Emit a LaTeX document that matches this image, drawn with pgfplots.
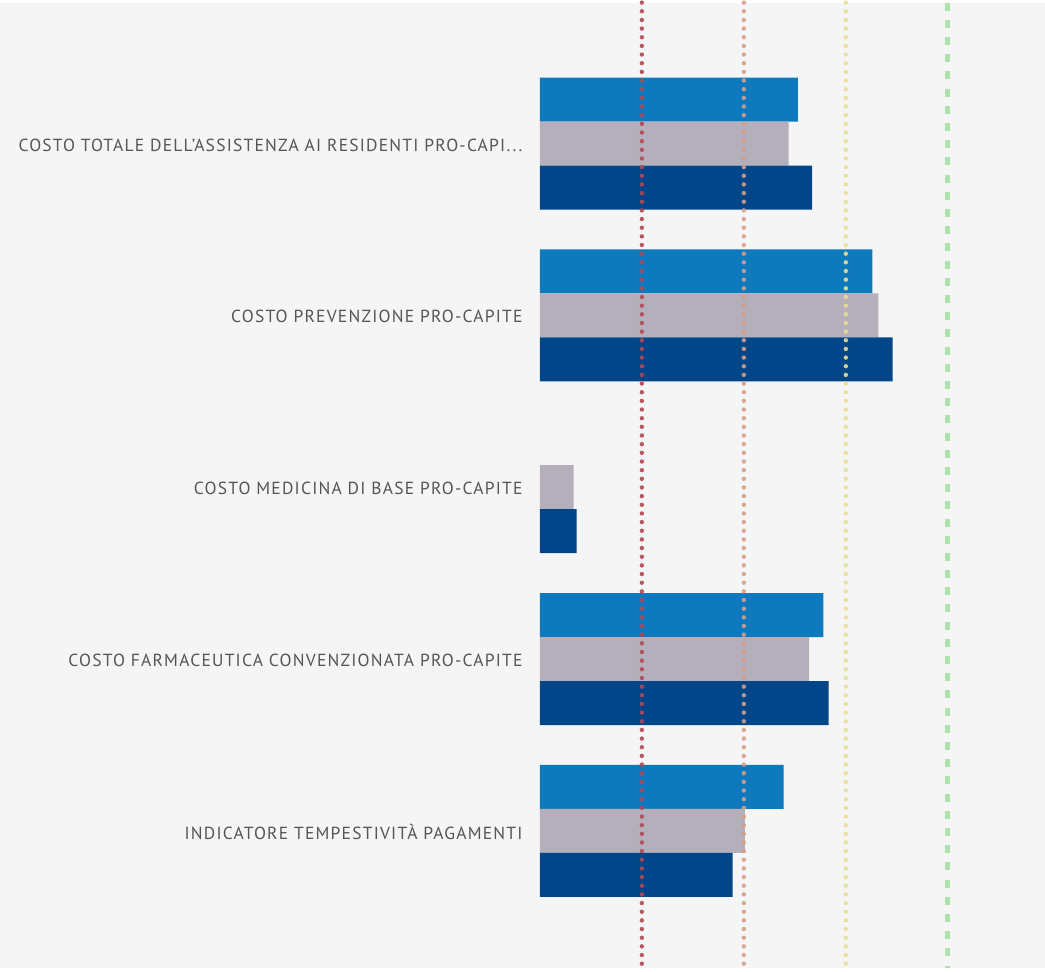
\documentclass[border=0pt]{standalone}
\usepackage{fontspec}
\setmainfont{PT Sans}[LetterSpace=7]
\usepackage{pgfplots}
\pgfplotsset{compat=1.18}

\definecolor{bg}{RGB}{245,245,245}
\definecolor{lightblue}{RGB}{14,122,189}
\definecolor{greybar}{RGB}{180,175,186}
\definecolor{darkblue}{RGB}{0,70,136}
\definecolor{lab}{RGB}{85,85,85}
\definecolor{l1}{RGB}{178,72,84}
\definecolor{l2}{RGB}{214,158,138}
\definecolor{l3}{RGB}{234,220,150}
\definecolor{l4}{RGB}{170,225,170}

\newcommand{\threedots}{.{}.{}.}

\begin{document}
\begin{tikzpicture}
\fill[bg] (-270pt,0) rectangle (252.5pt,483pt);
\begin{axis}[
  at={(0,0)}, anchor=south west,
  scale only axis,
  width=252.5pt, height=483pt,
  xmin=0, xmax=4.951,
  ymin=-0.82, ymax=4.80,
  y dir=reverse,
  axis line style={draw=none},
  major tick length=0pt,
  xtick=\empty,
  ytick={0,1,2,3,4},
  yticklabels={
    {COSTO TOTALE DELL'ASSISTENZA AI RESIDENTI PRO-CAPI\threedots},
    {COSTO PREVENZIONE PRO-CAPITE},
    {COSTO MEDICINA DI BASE PRO-CAPITE},
    {COSTO FARMACEUTICA CONVENZIONATA PRO-CAPITE},
    {INDICATORE TEMPESTIVITÀ PAGAMENTI}},
  yticklabel style={font=\fontsize{8.75}{10}\selectfont, text=lab, inner sep=0pt, xshift=-8.5pt, yshift=-0.7pt},
  clip=false,
]
\addplot[xbar, bar width=0.256, bar shift=-0.256, fill=lightblue, draw=none]
  coordinates {(2.53,0) (3.26,1) (2.78,3) (2.39,4)};
\addplot[xbar, bar width=0.256, bar shift=0, fill=greybar, draw=none]
  coordinates {(2.44,0) (3.32,1) (0.33,2) (2.64,3) (2.01,4)};
\addplot[xbar, bar width=0.256, bar shift=0.256, fill=darkblue, draw=none]
  coordinates {(2.67,0) (3.46,1) (0.36,2) (2.83,3) (1.89,4)};

\addplot[l1, opacity=0.9, line width=2.2pt, line cap=round, dash pattern=on 0pt off 4.33pt]
  coordinates {(1,-0.82) (1,4.80)};
\addplot[l2, opacity=0.9, line width=2.2pt, line cap=round, dash pattern=on 0pt off 4.33pt]
  coordinates {(2,-0.82) (2,4.80)};
\addplot[l3, opacity=0.9, line width=2.2pt, line cap=round, dash pattern=on 0pt off 4.33pt]
  coordinates {(3,-0.82) (3,4.80)};
\addplot[l4, opacity=0.95, line width=2.6pt, dash pattern=on 4pt off 4.6pt]
  coordinates {(4,-0.82) (4,4.80)};
\end{axis}
\end{tikzpicture}
\end{document}
